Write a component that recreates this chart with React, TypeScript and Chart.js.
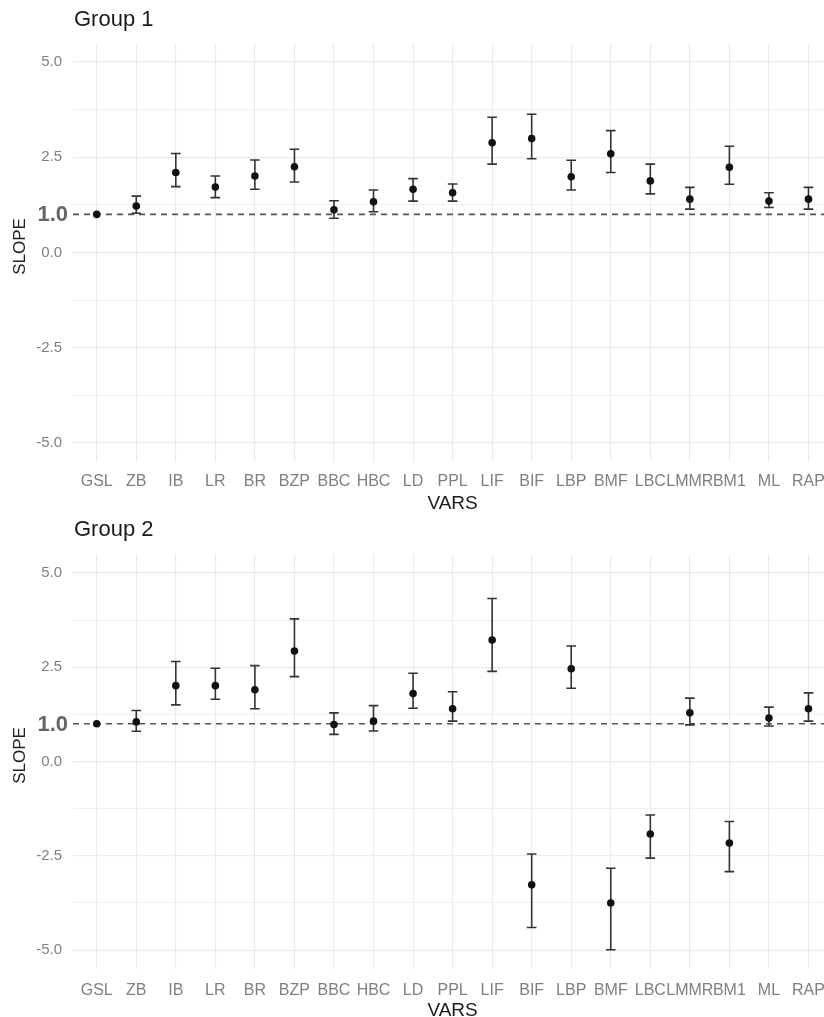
import React, { useEffect, useRef } from 'react';
import { Chart, registerables } from 'chart.js';

Chart.register(...registerables);

// ---------- data ----------
const categories = ['GSL', 'ZB', 'IB', 'LR', 'BR', 'BZP', 'BBC', 'HBC', 'LD', 'PPL', 'LIF', 'BIF', 'LBP', 'BMF', 'LBC', 'LMMR', 'BM1', 'ML', 'RAP'];

const group1Slope = [1.0, 1.22, 2.10, 1.72, 2.01, 2.25, 1.12, 1.33, 1.66, 1.57, 2.88, 2.99, 1.99, 2.59, 1.88, 1.40, 2.24, 1.35, 1.40];
const group1Lower = [null, 1.03, 1.73, 1.44, 1.66, 1.85, 0.90, 1.07, 1.35, 1.35, 2.32, 2.46, 1.64, 2.10, 1.54, 1.14, 1.79, 1.18, 1.14];
const group1Upper = [null, 1.48, 2.60, 2.01, 2.43, 2.71, 1.36, 1.64, 1.94, 1.80, 3.55, 3.63, 2.42, 3.20, 2.32, 1.71, 2.79, 1.57, 1.71];

const group2Slope = [1.0, 1.05, 2.01, 2.01, 1.90, 2.93, 0.98, 1.07, 1.80, 1.40, 3.22, -3.27, 2.46, -3.75, -1.92, 1.29, -2.16, 1.15, 1.40];
const group2Lower = [null, 0.80, 1.50, 1.65, 1.40, 2.25, 0.72, 0.81, 1.41, 1.07, 2.39, -4.40, 1.94, -4.99, -2.56, 0.97, -2.92, 0.94, 1.07];
const group2Upper = [null, 1.35, 2.65, 2.47, 2.54, 3.78, 1.29, 1.48, 2.34, 1.85, 4.32, -2.45, 3.06, -2.83, -1.42, 1.68, -1.59, 1.44, 1.82];

const yMajorTicks = [-5, -2.5, 0, 2.5, 5];
const yMinorTicks = [-3.75, -1.25, 1.25, 3.75];
const referenceValue = 1.0;
const referenceLabel = '1.0';
const yMin = -5.5;
const yMax = 5.5;
const xExpand = 0.6;

const xTitle = 'VARS';
const yTitle = 'SLOPE';

const FONT = '"Liberation Sans", Arial, Helvetica, sans-serif';
const CANVAS_W = 836;
const CANVAS_H = 520;

type PanelProps = {
  title: string;
  slope: number[];
  lower: (number | null)[];
  upper: (number | null)[];
  top: number;
  areaTop: number;
  areaBottom: number;
  labelPad: number;
  titlePad: number;
};

function Panel({ title, slope, lower, upper, top, areaTop, areaBottom, labelPad, titlePad }: PanelProps) {
  const ref = useRef<HTMLCanvasElement>(null);

  useEffect(() => {
    const canvas = ref.current;
    if (!canvas) return;

    const decor = {
      id: 'decor',
      beforeDatasetsDraw(chart: any) {
        const { ctx, chartArea, scales } = chart;
        const xs = scales.x;
        const ys = scales.y;
        ctx.save();
        // dashed reference line
        const yr = ys.getPixelForValue(referenceValue);
        ctx.strokeStyle = '#555555';
        ctx.lineWidth = 1.6;
        ctx.setLineDash([6, 5]);
        ctx.beginPath();
        ctx.moveTo(chartArea.left, yr);
        ctx.lineTo(chartArea.right, yr);
        ctx.stroke();
        ctx.setLineDash([]);
        // error bars
        ctx.strokeStyle = '#333333';
        ctx.lineWidth = 1.6;
        const cap = 4.8;
        for (let i = 0; i < categories.length; i++) {
          const lo = lower[i];
          const hi = upper[i];
          if (lo == null || hi == null) continue;
          const x = xs.getPixelForValue(i);
          const y1 = ys.getPixelForValue(hi);
          const y2 = ys.getPixelForValue(lo);
          ctx.beginPath();
          ctx.moveTo(x, y1);
          ctx.lineTo(x, y2);
          ctx.moveTo(x - cap, y1);
          ctx.lineTo(x + cap, y1);
          ctx.moveTo(x - cap, y2);
          ctx.lineTo(x + cap, y2);
          ctx.stroke();
        }
        ctx.restore();
      },
      afterDraw(chart: any) {
        const { ctx, chartArea, scales } = chart;
        const ys = scales.y;
        ctx.save();
        // panel title
        ctx.fillStyle = '#1a1a1a';
        ctx.font = `22px ${FONT}`;
        ctx.textAlign = 'left';
        ctx.textBaseline = 'middle';
        ctx.fillText(title, chartArea.left + 1, 20);
        // reference label
        ctx.fillStyle = '#666666';
        ctx.font = `bold 22px ${FONT}`;
        ctx.textAlign = 'right';
        ctx.fillText(referenceLabel, chartArea.left - 5, ys.getPixelForValue(referenceValue) + 1);
        // y title
        ctx.translate(20, (chartArea.top + chartArea.bottom) / 2 - 6);
        ctx.rotate(-Math.PI / 2);
        ctx.fillStyle = '#222222';
        ctx.font = `17px ${FONT}`;
        ctx.textAlign = 'center';
        ctx.fillText(yTitle, 0, 0);
        ctx.restore();
      },
    };

    const chart = new Chart(canvas, {
      type: 'scatter',
      data: {
        datasets: [
          {
            data: slope.map((v, i) => ({ x: i, y: v })),
            pointRadius: 3.8,
            pointHoverRadius: 3.8,
            pointBackgroundColor: '#111111',
            pointBorderColor: '#111111',
            pointBorderWidth: 0,
            showLine: false,
          },
        ],
      },
      options: {
        animation: false,
        responsive: false,
        maintainAspectRatio: false,
        devicePixelRatio: 1,
        events: [],
        layout: { padding: { top: areaTop, left: 0, right: 0, bottom: 0 } },
        plugins: {
          legend: { display: false },
          tooltip: { enabled: false },
          title: { display: false },
        },
        scales: {
          x: {
            type: 'linear',
            position: 'bottom',
            min: -xExpand,
            max: categories.length - 1 + xExpand,
            afterBuildTicks: (s: any) => {
              s.ticks = categories.map((_, i) => ({ value: i }));
            },
            afterFit: (s: any) => {
              s.height = CANVAS_H - areaBottom;
              s.paddingLeft = 0;
              s.paddingRight = 0;
            },
            ticks: {
              autoSkip: false,
              maxRotation: 0,
              minRotation: 0,
              padding: labelPad,
              color: '#7f7f7f',
              font: { family: FONT, size: 16 },
              callback: (v: any) => categories[v] ?? '',
            },
            grid: { color: '#ebebeb', lineWidth: 1.1, drawTicks: false },
            border: { display: false },
            title: {
              display: true,
              text: xTitle,
              color: '#1a1a1a',
              font: { family: FONT, size: 19 },
              padding: { top: 0, bottom: titlePad },
            },
          },
          y: {
            type: 'linear',
            min: yMin,
            max: yMax,
            afterBuildTicks: (s: any) => {
              s.ticks = [...yMajorTicks, ...yMinorTicks].sort((a, b) => a - b).map((v) => ({ value: v }));
            },
            afterFit: (s: any) => {
              s.width = 73;
            },
            ticks: {
              autoSkip: false,
              padding: 11,
              color: '#7f7f7f',
              font: { family: FONT, size: 15 },
              callback: (v: any) => (yMajorTicks.includes(v) ? Number(v).toFixed(1) : ''),
            },
            grid: {
              color: '#ebebeb',
              lineWidth: (c: any) => (c.tick && yMajorTicks.includes(c.tick.value) ? 1.2 : 0.8),
              drawTicks: false,
            },
            border: { display: false },
          },
        },
      },
      plugins: [decor],
    } as any);

    return () => chart.destroy();
  }, []);

  return (
    <canvas
      ref={ref}
      width={CANVAS_W}
      height={CANVAS_H}
      style={{ position: 'absolute', left: 0, top, display: 'block', width: CANVAS_W, height: CANVAS_H }}
    />
  );
}

export default function App() {
  return (
    <div
      style={{
        position: 'fixed',
        left: 0,
        top: 0,
        width: 824,
        height: 1017,
        overflow: 'hidden',
        background: '#ffffff',
      }}
    >
      <Panel
        title="Group 1"
        slope={group1Slope}
        lower={group1Lower}
        upper={group1Upper}
        top={0}
        areaTop={43}
        areaBottom={462}
        labelPad={10}
        titlePad={5}
      />
      <Panel
        title="Group 2"
        slope={group2Slope}
        lower={group2Lower}
        upper={group2Upper}
        top={510}
        areaTop={44}
        areaBottom={459}
        labelPad={12}
        titlePad={8}
      />
    </div>
  );
}
